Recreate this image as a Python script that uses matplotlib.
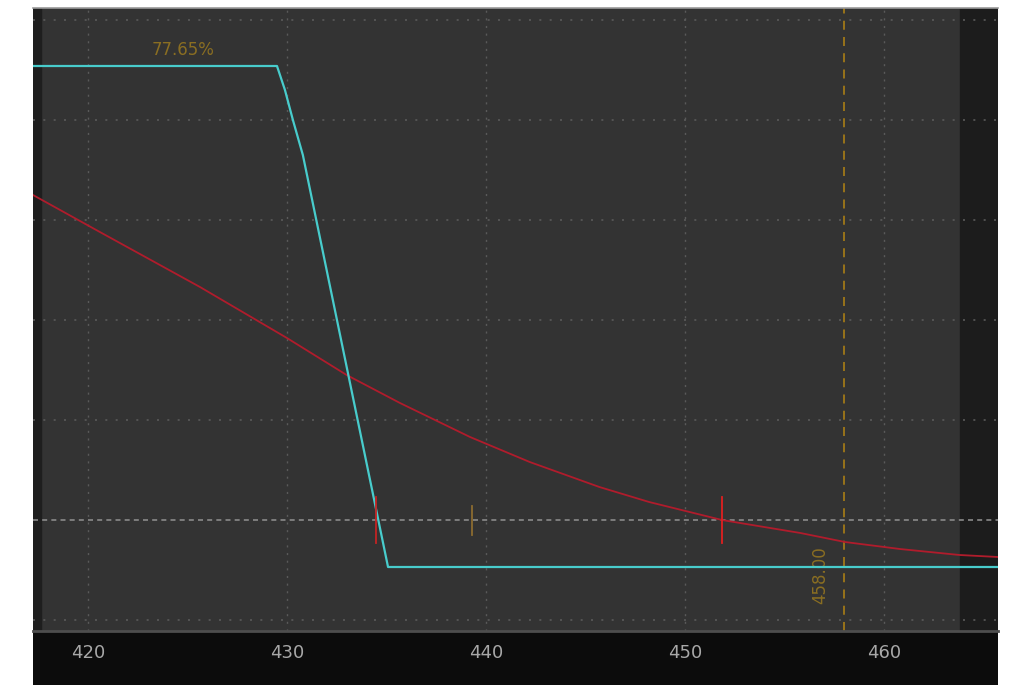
import numpy as np
import matplotlib.pyplot as plt
from matplotlib.patches import Rectangle

# price axis
x_lo, x_hi = 417.24, 465.73
x_ticks = [420, 430, 440, 450, 460]
y_grid = [0, 10, 20, 30, 40, 50, 60]

# cyan curve (probability step)
cyan_x = [417.24, 429.5, 429.9, 430.3, 430.8, 435.08, 465.73]
cyan_y = [55.4, 55.4, 53.0, 50.0, 46.5, 5.3, 5.3]

# red curve
red_x = [417.24, 420.6, 425.63, 430.0, 433.0, 435.68, 439.2, 442.2, 445.7,
         448.2, 451.86, 455.8, 458.04, 460.8, 463.8, 465.73]
red_y = [42.5, 38.8, 33.3, 28.2, 24.5, 21.7, 18.3, 15.8, 13.3,
         11.8, 10.0, 8.7, 7.8, 7.1, 6.5, 6.3]

# small vertical markers
mark_x = [434.5, 439.3, 451.86]
mark_lo = [7.7, 8.5, 7.7]
mark_hi = [12.3, 11.4, 12.3]
mark_col = ['#c42424', '#8c6c30', '#e02020']

ref_level = 10.0
exp_price = 458.00
pct_label = '77.65%'

W, H = 1024, 693
fig = plt.figure(figsize=(W / 100, H / 100), dpi=100)
fig.patch.set_facecolor('white')

# bottom label band
fig.patches.append(Rectangle((33 / W, (H - 685) / H), (998 - 33) / W, (685 - 631) / H,
                             transform=fig.transFigure, facecolor='#0c0c0c',
                             edgecolor='none', zorder=-5))

ax = fig.add_axes([33 / W, (H - 631) / H, (998 - 33) / W, (631 - 8) / H])
ax.set_facecolor('#333333')
ax.set_xlim(x_lo, x_hi)
ax.set_ylim(-1.1, 61.2)

# dark strips at the edges
ax.axvspan(x_lo, 417.64, color='#1e1e1e', zorder=0)
ax.axvspan(463.82, x_hi, color='#1c1c1c', zorder=0)

for xt in x_ticks:
    ax.axvline(xt, color='#5a5a5a', lw=1, ls=(0, (1.5, 4)), zorder=1)
for yg in y_grid:
    if yg == ref_level:
        continue
    ax.axhline(yg, color='#5a5a5a', lw=1.2, ls=(0, (1.2, 5)), zorder=1)

ax.axhline(ref_level, color='#8a8a8a', lw=1.2, ls=(0, (3, 2.5)), zorder=2)
ax.axvline(exp_price, color='#a07818', lw=1.3, ls=(0, (5, 4)), zorder=2)

ax.plot(red_x, red_y, color='#b01c2c', lw=1.3, zorder=3)
ax.plot(cyan_x, cyan_y, color='#48cccc', lw=1.6, zorder=4)

for mx, lo, hi, c in zip(mark_x, mark_lo, mark_hi, mark_col):
    ax.plot([mx, mx], [lo, hi], color=c, lw=1.3, zorder=5)

ax.text(424.8, 57.0, pct_label, color='#8a6e22', fontsize=12,
        ha='center', va='center', family='DejaVu Sans')
ax.text(456.8, 4.5, '%.2f' % exp_price, color='#8a6e22', fontsize=12,
        rotation=90, ha='center', va='center', family='DejaVu Sans')

ax.set_xticks(x_ticks)
ax.set_xticklabels([str(t) for t in x_ticks])
ax.set_yticks([])
ax.tick_params(axis='x', length=0, pad=9, labelsize=13, labelcolor='#a8a8a8')
for lab in ax.get_xticklabels():
    lab.set_family('DejaVu Sans')

for side in ['left', 'right']:
    ax.spines[side].set_visible(False)
ax.spines['top'].set_color('#9a9a9a')
ax.spines['top'].set_linewidth(1.2)
ax.spines['bottom'].set_color('#4e4e4e')
ax.spines['bottom'].set_linewidth(2)

fig.savefig('out.png', dpi=100, facecolor='white')
